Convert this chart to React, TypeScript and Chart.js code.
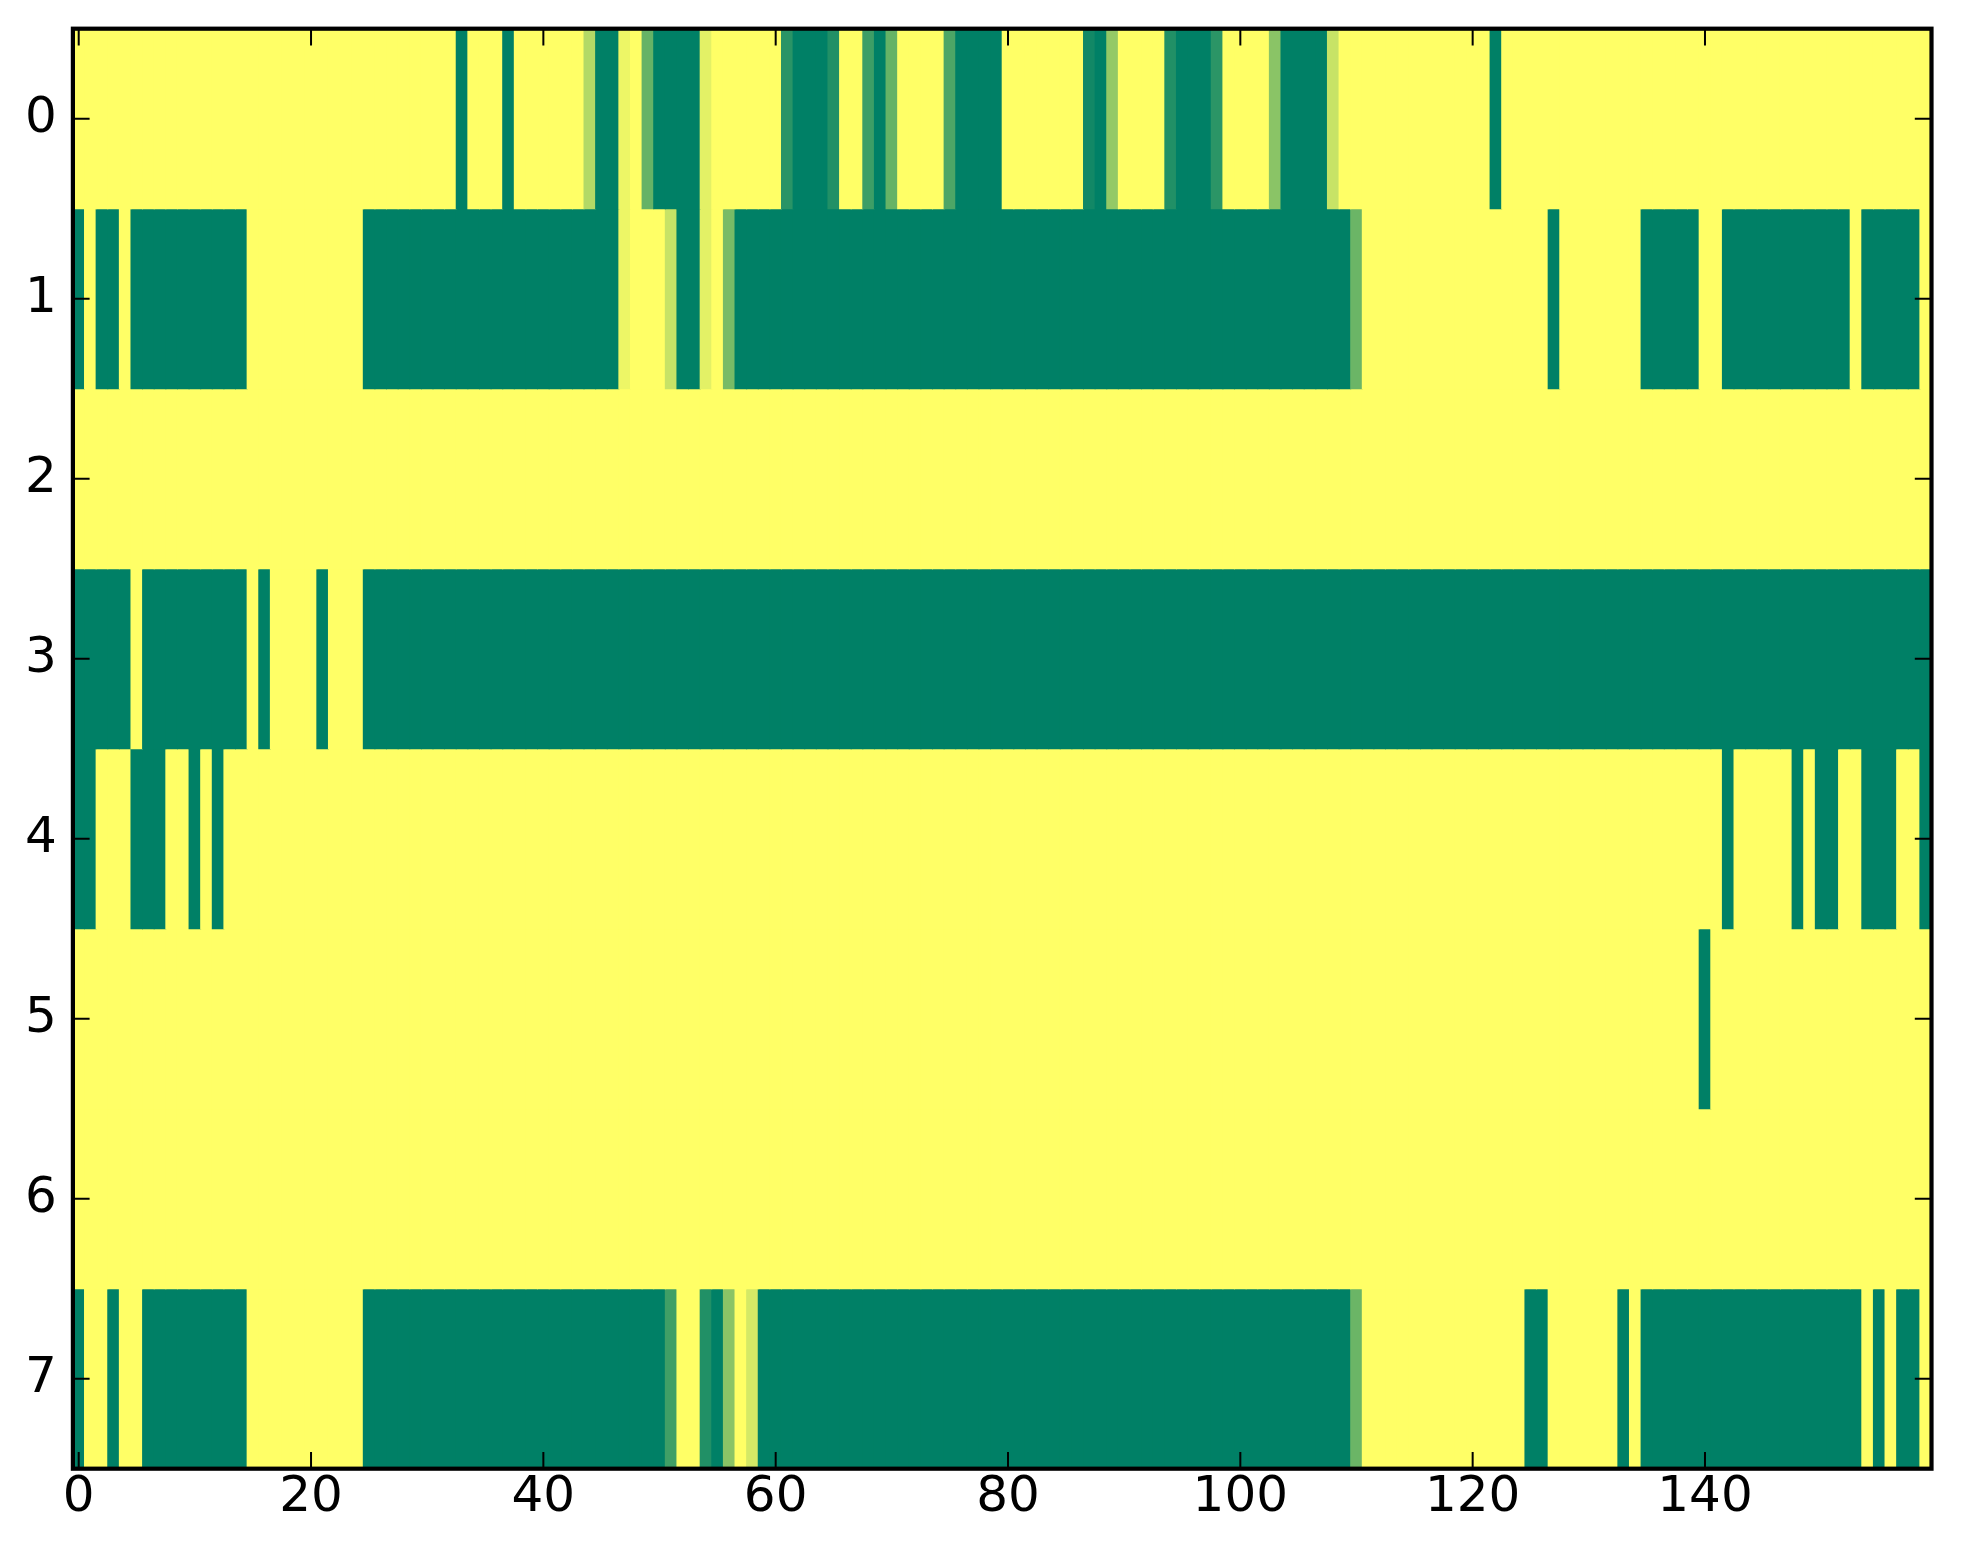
import React, { useEffect, useRef } from "react";
import { Chart, registerables } from "chart.js";

Chart.register(...registerables);

// ---- data (imshow-style grid, 8 rows x 160 columns, values 0..1, summer colormap) ----
const ROW_0 = [
  1, 1, 1, 1, 1, 1, 1, 1, 1, 1, 1, 1, 1, 1, 1, 1, 1, 1, 1, 1,
  1, 1, 1, 1, 1, 1, 1, 1, 1, 1, 1, 1, 1, 0, 1, 1, 1, 0, 1, 1,
  1, 1, 1, 1, 0.7, 0, 0, 0.93, 1, 0.4, 0, 0, 0, 0, 0.89, 1, 1, 1, 1, 1,
  1, 0.16, 0, 0, 0, 0.13, 1, 1, 0.24, 0, 0.4, 1, 1, 1, 1, 0.3, 0, 0, 0, 0,
  1, 1, 1, 1, 1, 1, 1, 0.07, 0, 0.58, 1, 1, 1, 1, 0.13, 0, 0, 0, 0.17, 1,
  1, 1, 1, 0.54, 0, 0, 0, 0, 0.78, 1, 1, 1, 1, 1, 1, 1, 1, 1, 1, 1,
  1, 1, 0, 1, 1, 1, 1, 1, 1, 1, 1, 1, 1, 1, 1, 1, 1, 1, 1, 1,
  1, 1, 1, 1, 1, 1, 1, 1, 1, 1, 1, 1, 1, 1, 1, 1, 1, 1, 1, 1,
];
const ROW_1 = [
  0, 1, 0, 0, 1, 0, 0, 0, 0, 0, 0, 0, 0, 0, 0, 1, 1, 1, 1, 1,
  1, 1, 1, 1, 1, 0, 0, 0, 0, 0, 0, 0, 0, 0, 0, 0, 0, 0, 0, 0,
  0, 0, 0, 0, 0, 0, 0, 0.93, 1, 1, 1, 0.78, 0, 0, 0.89, 1, 0.47, 0, 0, 0,
  0, 0, 0, 0, 0, 0, 0, 0, 0, 0, 0, 0, 0, 0, 0, 0, 0, 0, 0, 0,
  0, 0, 0, 0, 0, 0, 0, 0, 0, 0, 0, 0, 0, 0, 0, 0, 0, 0, 0, 0,
  0, 0, 0, 0, 0, 0, 0, 0, 0, 0, 0.42, 1, 1, 1, 1, 1, 1, 1, 1, 1,
  1, 1, 1, 1, 1, 1, 1, 0, 1, 1, 1, 1, 1, 1, 1, 0, 0, 0, 0, 0,
  1, 1, 0, 0, 0, 0, 0, 0, 0, 0, 0, 0, 0, 1, 0, 0, 0, 0, 0, 1,
];
const ROW_2 = [
  1, 1, 1, 1, 1, 1, 1, 1, 1, 1, 1, 1, 1, 1, 1, 1, 1, 1, 1, 1,
  1, 1, 1, 1, 1, 1, 1, 1, 1, 1, 1, 1, 1, 1, 1, 1, 1, 1, 1, 1,
  1, 1, 1, 1, 1, 1, 1, 1, 1, 1, 1, 1, 1, 1, 1, 1, 1, 1, 1, 1,
  1, 1, 1, 1, 1, 1, 1, 1, 1, 1, 1, 1, 1, 1, 1, 1, 1, 1, 1, 1,
  1, 1, 1, 1, 1, 1, 1, 1, 1, 1, 1, 1, 1, 1, 1, 1, 1, 1, 1, 1,
  1, 1, 1, 1, 1, 1, 1, 1, 1, 1, 1, 1, 1, 1, 1, 1, 1, 1, 1, 1,
  1, 1, 1, 1, 1, 1, 1, 1, 1, 1, 1, 1, 1, 1, 1, 1, 1, 1, 1, 1,
  1, 1, 1, 1, 1, 1, 1, 1, 1, 1, 1, 1, 1, 1, 1, 1, 1, 1, 1, 1,
];
const ROW_3 = [
  0, 0, 0, 0, 0, 1, 0, 0, 0, 0, 0, 0, 0, 0, 0, 1, 0, 1, 1, 1,
  1, 0, 1, 1, 1, 0, 0, 0, 0, 0, 0, 0, 0, 0, 0, 0, 0, 0, 0, 0,
  0, 0, 0, 0, 0, 0, 0, 0, 0, 0, 0, 0, 0, 0, 0, 0, 0, 0, 0, 0,
  0, 0, 0, 0, 0, 0, 0, 0, 0, 0, 0, 0, 0, 0, 0, 0, 0, 0, 0, 0,
  0, 0, 0, 0, 0, 0, 0, 0, 0, 0, 0, 0, 0, 0, 0, 0, 0, 0, 0, 0,
  0, 0, 0, 0, 0, 0, 0, 0, 0, 0, 0, 0, 0, 0, 0, 0, 0, 0, 0, 0,
  0, 0, 0, 0, 0, 0, 0, 0, 0, 0, 0, 0, 0, 0, 0, 0, 0, 0, 0, 0,
  0, 0, 0, 0, 0, 0, 0, 0, 0, 0, 0, 0, 0, 0, 0, 0, 0, 0, 0, 0,
];
const ROW_4 = [
  0, 0, 1, 1, 1, 0, 0, 0, 1, 1, 0, 1, 0, 1, 1, 1, 1, 1, 1, 1,
  1, 1, 1, 1, 1, 1, 1, 1, 1, 1, 1, 1, 1, 1, 1, 1, 1, 1, 1, 1,
  1, 1, 1, 1, 1, 1, 1, 1, 1, 1, 1, 1, 1, 1, 1, 1, 1, 1, 1, 1,
  1, 1, 1, 1, 1, 1, 1, 1, 1, 1, 1, 1, 1, 1, 1, 1, 1, 1, 1, 1,
  1, 1, 1, 1, 1, 1, 1, 1, 1, 1, 1, 1, 1, 1, 1, 1, 1, 1, 1, 1,
  1, 1, 1, 1, 1, 1, 1, 1, 1, 1, 1, 1, 1, 1, 1, 1, 1, 1, 1, 1,
  1, 1, 1, 1, 1, 1, 1, 1, 1, 1, 1, 1, 1, 1, 1, 1, 1, 1, 1, 1,
  1, 1, 0, 1, 1, 1, 1, 1, 0, 1, 0, 0, 1, 1, 0, 0, 0, 1, 1, 0,
];
const ROW_5 = [
  1, 1, 1, 1, 1, 1, 1, 1, 1, 1, 1, 1, 1, 1, 1, 1, 1, 1, 1, 1,
  1, 1, 1, 1, 1, 1, 1, 1, 1, 1, 1, 1, 1, 1, 1, 1, 1, 1, 1, 1,
  1, 1, 1, 1, 1, 1, 1, 1, 1, 1, 1, 1, 1, 1, 1, 1, 1, 1, 1, 1,
  1, 1, 1, 1, 1, 1, 1, 1, 1, 1, 1, 1, 1, 1, 1, 1, 1, 1, 1, 1,
  1, 1, 1, 1, 1, 1, 1, 1, 1, 1, 1, 1, 1, 1, 1, 1, 1, 1, 1, 1,
  1, 1, 1, 1, 1, 1, 1, 1, 1, 1, 1, 1, 1, 1, 1, 1, 1, 1, 1, 1,
  1, 1, 1, 1, 1, 1, 1, 1, 1, 1, 1, 1, 1, 1, 1, 1, 1, 1, 1, 1,
  0, 1, 1, 1, 1, 1, 1, 1, 1, 1, 1, 1, 1, 1, 1, 1, 1, 1, 1, 1,
];
const ROW_6 = [
  1, 1, 1, 1, 1, 1, 1, 1, 1, 1, 1, 1, 1, 1, 1, 1, 1, 1, 1, 1,
  1, 1, 1, 1, 1, 1, 1, 1, 1, 1, 1, 1, 1, 1, 1, 1, 1, 1, 1, 1,
  1, 1, 1, 1, 1, 1, 1, 1, 1, 1, 1, 1, 1, 1, 1, 1, 1, 1, 1, 1,
  1, 1, 1, 1, 1, 1, 1, 1, 1, 1, 1, 1, 1, 1, 1, 1, 1, 1, 1, 1,
  1, 1, 1, 1, 1, 1, 1, 1, 1, 1, 1, 1, 1, 1, 1, 1, 1, 1, 1, 1,
  1, 1, 1, 1, 1, 1, 1, 1, 1, 1, 1, 1, 1, 1, 1, 1, 1, 1, 1, 1,
  1, 1, 1, 1, 1, 1, 1, 1, 1, 1, 1, 1, 1, 1, 1, 1, 1, 1, 1, 1,
  1, 1, 1, 1, 1, 1, 1, 1, 1, 1, 1, 1, 1, 1, 1, 1, 1, 1, 1, 1,
];
const ROW_7 = [
  0, 1, 1, 0, 1, 1, 0, 0, 0, 0, 0, 0, 0, 0, 0, 1, 1, 1, 1, 1,
  1, 1, 1, 1, 1, 0, 0, 0, 0, 0, 0, 0, 0, 0, 0, 0, 0, 0, 0, 0,
  0, 0, 0, 0, 0, 0, 0, 0, 0, 0, 0, 0.25, 1, 1, 0.13, 0, 0.54, 1, 0.83, 0,
  0, 0, 0, 0, 0, 0, 0, 0, 0, 0, 0, 0, 0, 0, 0, 0, 0, 0, 0, 0,
  0, 0, 0, 0, 0, 0, 0, 0, 0, 0, 0, 0, 0, 0, 0, 0, 0, 0, 0, 0,
  0, 0, 0, 0, 0, 0, 0, 0, 0, 0, 0.42, 1, 1, 1, 1, 1, 1, 1, 1, 1,
  1, 1, 1, 1, 1, 0, 0, 1, 1, 1, 1, 1, 1, 0, 1, 0, 0, 0, 0, 0,
  0, 0, 0, 0, 0, 0, 0, 0, 0, 0, 0, 0, 0, 0, 1, 0, 1, 0, 0, 1,
];

const ROWS = [ROW_0, ROW_1, ROW_2, ROW_3, ROW_4, ROW_5, ROW_6, ROW_7];
const X_TICKS = [0, 20, 40, 60, 80, 100, 120, 140];
const Y_TICKS = [0, 1, 2, 3, 4, 5, 6, 7];

// matplotlib "summer" colormap
function summer(v: number): string {
  const r = Math.round(255 * v);
  const g = Math.round(255 * (0.5 + 0.5 * v));
  return `rgb(${r},${g},102)`;
}

const W = 1963;
const H = 1564;
const AREA_LEFT = 72.9;
const AREA_TOP = 28.7;
const AREA_RIGHT = 1931.5;
const AREA_BOTTOM = 1468.7;
const FONT = { family: "'DejaVu Sans', sans-serif", size: 50 };

const frameAndTicks = {
  id: "frameAndTicks",
  afterDraw(chart: any) {
    const ctx = chart.ctx;
    const ca = chart.chartArea;
    const xs = chart.scales.x;
    const ys = chart.scales.y;
    const len = 16.7;
    ctx.save();
    ctx.strokeStyle = "#000";
    ctx.lineWidth = 2;
    ctx.beginPath();
    for (const t of xs.ticks) {
      const px = xs.getPixelForValue(t.value);
      ctx.moveTo(px, ca.bottom);
      ctx.lineTo(px, ca.bottom - len);
      ctx.moveTo(px, ca.top);
      ctx.lineTo(px, ca.top + len);
    }
    for (const t of ys.ticks) {
      const py = ys.getPixelForValue(t.value);
      ctx.moveTo(ca.left, py);
      ctx.lineTo(ca.left + len, py);
      ctx.moveTo(ca.right, py);
      ctx.lineTo(ca.right - len, py);
    }
    ctx.stroke();
    ctx.lineWidth = 4.2;
    ctx.strokeRect(ca.left, ca.top, ca.right - ca.left, ca.bottom - ca.top);
    ctx.restore();
  },
};

export default function App() {
  const ref = useRef<HTMLCanvasElement | null>(null);

  useEffect(() => {
    if (!ref.current) return;
    const datasets = ROWS.map((row, r) => ({
      label: `row ${r}`,
      data: row.map((_v, c) => ({ x: c, y: [r - 0.5, r + 0.5] })),
      backgroundColor: row.map((v) => summer(v)),
      borderWidth: 0,
      grouped: false,
      barPercentage: 1,
      categoryPercentage: 1,
      inflateAmount: 0.5,
    }));

    const chart = new Chart(ref.current, {
      type: "bar",
      data: { datasets: datasets as any },
      options: {
        animation: false,
        responsive: false,
        devicePixelRatio: 1,
        layout: {
          padding: { left: 0, top: AREA_TOP, right: W - AREA_RIGHT, bottom: 0 },
        },
        plugins: { legend: { display: false }, tooltip: { enabled: false } },
        scales: {
          x: {
            type: "linear",
            min: -0.5,
            max: 159.5,
            offset: false,
            grid: { display: false, drawTicks: false },
            border: { display: false },
            afterBuildTicks: (scale: any) => {
              scale.ticks = X_TICKS.map((v) => ({ value: v }));
            },
            afterFit: (scale: any) => {
              scale.height = H - AREA_BOTTOM;
              scale.paddingLeft = 0;
              scale.paddingRight = 0;
              scale.paddingTop = 0;
              scale.paddingBottom = 0;
            },
            ticks: {
              autoSkip: false,
              maxRotation: 0,
              padding: -1,
              color: "#000",
              font: FONT,
            },
          },
          y: {
            type: "linear",
            min: -0.5,
            max: 7.5,
            reverse: true,
            grid: { display: false, drawTicks: false },
            border: { display: false },
            afterBuildTicks: (scale: any) => {
              scale.ticks = Y_TICKS.map((v) => ({ value: v }));
            },
            afterFit: (scale: any) => {
              scale.width = AREA_LEFT;
              scale.paddingLeft = 0;
              scale.paddingRight = 0;
              scale.paddingTop = 0;
              scale.paddingBottom = 0;
            },
            ticks: {
              autoSkip: false,
              padding: 16,
              color: "#000",
              font: FONT,
            },
          },
        },
      },
      plugins: [frameAndTicks],
    });
    return () => chart.destroy();
  }, []);

  return (
    <div style={{ position: "fixed", left: 0, top: 0, width: W, height: H, background: "#fff" }}>
      <canvas ref={ref} width={W} height={H} style={{ display: "block", width: W, height: H }} />
    </div>
  );
}
